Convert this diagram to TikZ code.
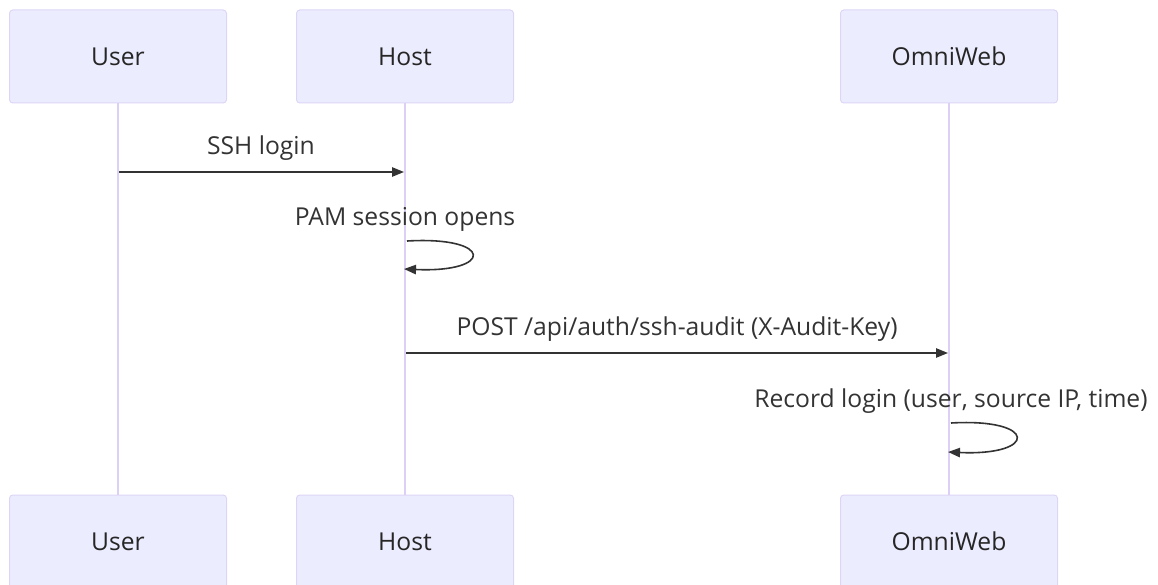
\documentclass[tikz,border=0pt]{standalone}
\usepackage{fontspec}
\setmainfont{Open Sans}
\usetikzlibrary{arrows.meta}
\definecolor{actorfill}{HTML}{ECECFF}
\definecolor{actorline}{HTML}{DDD5F5}
\definecolor{lifeline}{HTML}{DCD0F6}
\definecolor{msgcolor}{HTML}{333333}

\begin{document}
\begin{tikzpicture}[x=0.75pt,y=-0.75pt,
  actor/.style={draw=actorline, line width=0.75pt, fill=actorfill,
    rounded corners=2.5pt, minimum width=162.75pt, minimum height=69.75pt,
    inner sep=0pt, font=\fontsize{18.5}{22}\selectfont, text=black!85},
  life/.style={draw=lifeline, line width=1.5pt},
  msgline/.style={draw=msgcolor, line width=1.2pt,
    -{Triangle[length=9pt,width=7pt]}},
  msglabel/.style={font=\fontsize{18.5}{22}\selectfont, text=msgcolor,
    inner sep=0pt, anchor=base}]
\useasboundingbox (0,0) rectangle (1158,585);
\clip (0,0) rectangle (1158,585);

% participants, top and bottom
\node[actor] (userTop) at (118,56.5) {User};
\node[actor] (hostTop) at (405,56.5) {Host};
\node[actor] (webTop)  at (949,56.5) {OmniWeb};
\node[actor] (userBot) at (118,541.5) {User};
\node[actor] (hostBot) at (405,541.5) {Host};
\node[actor] (webBot)  at (949,541.5) {OmniWeb};

% lifelines
\draw[life] (userTop.south) -- (userBot.north);
\draw[life] (hostTop.south) -- (hostBot.north);
\draw[life] (webTop.south) -- (webBot.north);

% message end points on the lifelines
\coordinate (m1a) at (119,172);
\coordinate (m1b) at (404,172);
\coordinate (m2a) at (407,241);
\coordinate (m2b) at (404,269);
\coordinate (m3a) at (406,353);
\coordinate (m3b) at (948,353);
\coordinate (m4a) at (951,423);
\coordinate (m4b) at (948,452);

% messages
\node[msglabel] (l1) at (261,155) {SSH login};
\draw[msgline] (m1a) -- (m1b);

\node[msglabel] (l2) at (405,225) {PAM session opens};
\draw[msgline] (m2a) .. controls (494,236) and (494,273) .. (m2b);

\node[msglabel] (l3) at (677,335) {POST /api/auth/ssh-audit (X-Audit-Key)};
\draw[msgline] (m3a) -- (m3b);

\node[msglabel] (l4) at (951,407) {Record login (user, source IP, time)};
\draw[msgline] (m4a) .. controls (1038,418) and (1038,456) .. (m4b);
\end{tikzpicture}
\end{document}
